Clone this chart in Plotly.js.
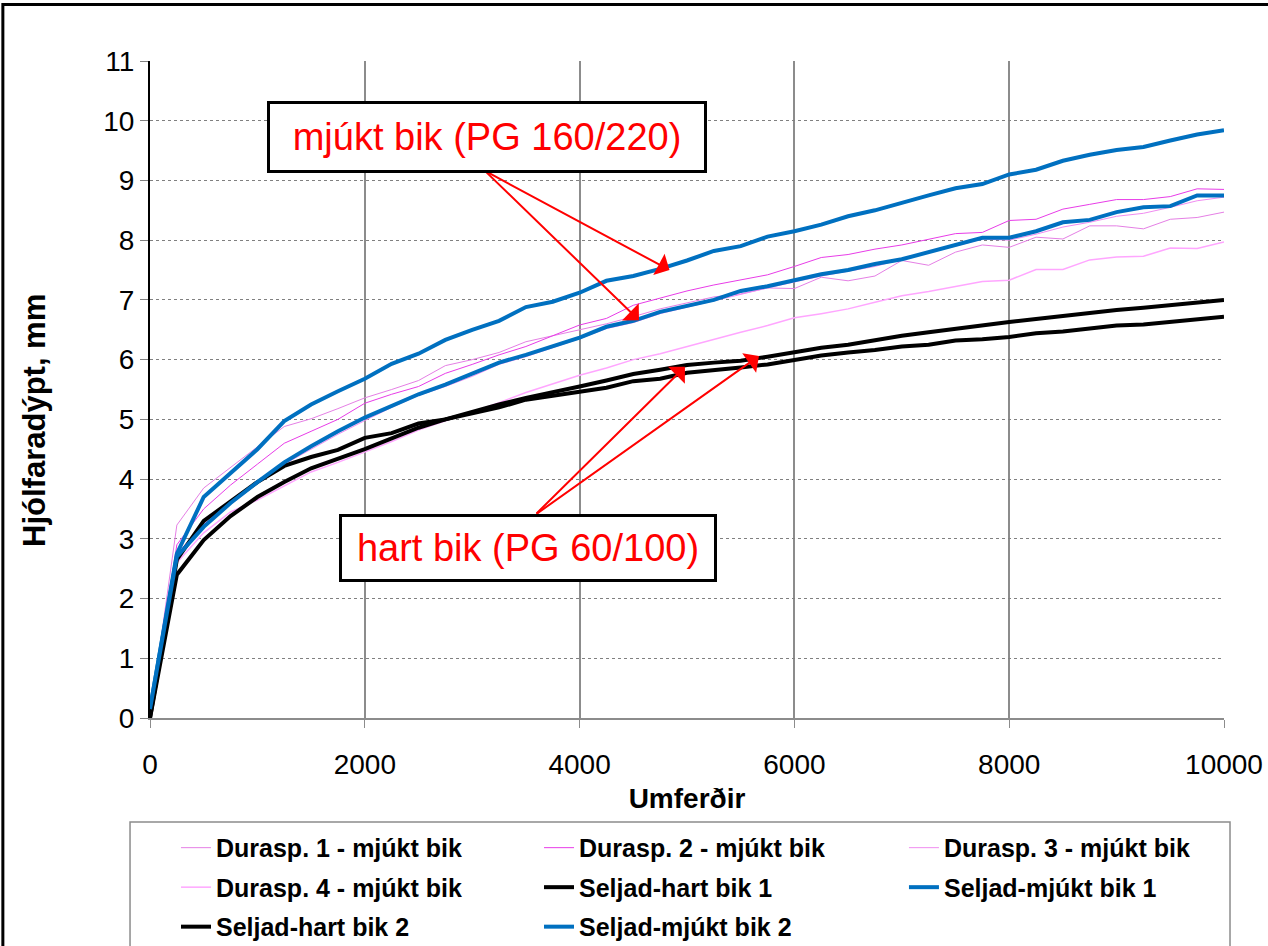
<!DOCTYPE html>
<html>
<head>
<meta charset="utf-8">
<script src="https://cdn.plot.ly/plotly-3.0.1.min.js"></script>
<style>
html,body{margin:0;padding:0;background:#fff;}
#chart{width:1268px;height:946px;}
</style>
</head>
<body>
<div id="chart"></div>
<script>
// Traffic passes (x axis)
const passes = [0,250,500,750,1000,1250,1500,1750,2000,2250,2500,2750,3000,3250,3500,3750,4000,4250,4500,4750,5000,
  5250,5500,5750,6000,6250,6500,6750,7000,7250,7500,7750,8000,8250,8500,8750,9000,9250,9500,9750,10000];

const durasp1 = [0,3.23,3.85,4.2,4.54,4.88,5.01,5.18,5.36,5.5,5.65,5.9,6.0,6.12,6.3,6.4,6.5,6.6,6.72,6.85,6.95,
  7.05,7.1,7.2,7.19,7.38,7.32,7.4,7.66,7.58,7.8,7.92,7.88,8.05,8.02,8.24,8.24,8.19,8.35,8.38,8.47];
const durasp2 = [0,2.9,3.5,3.9,4.25,4.6,4.8,5.0,5.27,5.42,5.55,5.77,5.92,6.08,6.22,6.4,6.58,6.69,6.91,7.03,7.15,
  7.25,7.34,7.42,7.56,7.71,7.76,7.85,7.92,8.02,8.11,8.13,8.33,8.35,8.52,8.6,8.68,8.68,8.73,8.86,8.85];
const durasp3 = [0,2.75,3.25,3.62,3.95,4.25,4.5,4.75,4.98,5.2,5.4,5.55,5.72,5.92,6.05,6.2,6.35,6.52,6.62,6.77,6.88,
  6.98,7.1,7.2,7.3,7.4,7.48,7.56,7.68,7.8,7.9,8.02,8.0,8.1,8.22,8.3,8.4,8.45,8.55,8.66,8.72];
const durasp4 = [0,2.6,3.1,3.45,3.65,3.88,4.12,4.28,4.45,4.63,4.82,4.97,5.12,5.28,5.45,5.6,5.74,5.86,6.0,6.1,6.22,
  6.35,6.46,6.57,6.7,6.77,6.85,6.96,7.07,7.14,7.22,7.31,7.33,7.51,7.51,7.67,7.72,7.73,7.87,7.86,7.97];
const seljadHart1 = [0,2.4,2.98,3.38,3.7,3.95,4.18,4.34,4.5,4.68,4.86,5.0,5.13,5.25,5.36,5.45,5.55,5.65,5.76,5.83,5.91,
  5.95,5.98,6.05,6.12,6.2,6.25,6.33,6.4,6.46,6.52,6.57,6.63,6.68,6.73,6.79,6.83,6.87,6.91,6.95,7.0];
const seljadMjukt1 = [0.15,2.75,3.7,4.1,4.5,4.97,5.25,5.47,5.68,5.93,6.1,6.33,6.5,6.65,6.88,6.97,7.12,7.32,7.4,7.52,7.66,
  7.82,7.9,8.06,8.15,8.26,8.4,8.5,8.63,8.75,8.87,8.94,9.1,9.18,9.33,9.43,9.51,9.56,9.67,9.77,9.84];
const seljadHart2 = [0,2.65,3.3,3.62,3.95,4.22,4.37,4.49,4.69,4.77,4.93,5.0,5.1,5.2,5.33,5.4,5.46,5.53,5.64,5.68,5.78,
  5.82,5.87,5.92,5.99,6.07,6.12,6.16,6.22,6.25,6.32,6.34,6.38,6.44,6.47,6.52,6.57,6.59,6.63,6.68,6.72];
const seljadMjukt2 = [0.15,2.7,3.2,3.6,3.95,4.28,4.55,4.8,5.03,5.22,5.42,5.58,5.76,5.95,6.08,6.22,6.37,6.55,6.65,6.8,6.9,
  7.0,7.15,7.23,7.33,7.43,7.5,7.6,7.68,7.8,7.93,8.04,8.04,8.15,8.3,8.34,8.47,8.55,8.57,8.75,8.75];

const seriesNames = ["Durasp. 1 - mjúkt bik","Durasp. 2 - mjúkt bik","Durasp. 3 - mjúkt bik","Durasp. 4 - mjúkt bik",
  "Seljad-hart bik 1","Seljad-mjúkt bik 1","Seljad-hart bik 2","Seljad-mjúkt bik 2"];

const xTitle = "Umferðir";
const yTitle = "Hjólfaradýpt, mm";
const labelSoft = "mjúkt bik (PG 160/220)";
const labelHard = "hart bik (PG 60/100)";

const FONT = "Liberation Sans, Arial, sans-serif";

// legend laid out in three columns (legend, legend2, legend3), read row by row
function tr(i, y, color, width) {
  const col = i % 3;
  return {x: passes, y: y, name: seriesNames[i], type: "scatter", mode: "lines",
          line: {color: color, width: width},
          legend: col === 0 ? "legend" : (col === 1 ? "legend2" : "legend3"),
          legendgroup: "g" + i};
}

const data = [
  tr(0, durasp1, "#e57fe5", 1),
  tr(1, durasp2, "#e83ce8", 1),
  tr(2, durasp3, "#f08cf0", 1),
  tr(3, durasp4, "#ffa6ff", 1.5),
  tr(4, seljadHart1, "#000000", 4),
  tr(5, seljadMjukt1, "#0070c0", 4),
  tr(6, seljadHart2, "#000000", 4),
  tr(7, seljadMjukt2, "#0070c0", 4)
];

function legendAt(xc) {
  return {
    orientation: "v", xref: "container", yref: "container",
    x: xc, xanchor: "left", y: 0.128, yanchor: "top",
    font: {family: FONT, size: 25, color: "#000", weight: "bold"},
    bgcolor: "rgba(0,0,0,0)", borderwidth: 0, traceorder: "grouped", tracegroupgap: 4
  };
}

const arrowCommon = {text: "", showarrow: true, arrowcolor: "#ff0000", arrowwidth: 2,
  arrowhead: 1, arrowsize: 2, xref: "x", yref: "y", axref: "x", ayref: "y"};

const layout = {
  width: 1268, height: 946,
  paper_bgcolor: "#ffffff", plot_bgcolor: "#ffffff",
  margin: {l: 150, r: 44, t: 61, b: 228, pad: 0, autoexpand: false},
  font: {family: FONT, color: "#000"},
  showlegend: true,
  legend: legendAt(0.1388),
  legend2: legendAt(0.4251),
  legend3: legendAt(0.7129),
  xaxis: {
    range: [0, 10000], dtick: 2000, tick0: 0, tickformat: "d",
    showgrid: true, gridcolor: "#8c8c8c", gridwidth: 2,
    showline: true, linecolor: "#8c8c8c", linewidth: 2,
    ticks: "outside", ticklen: 8, tickcolor: "#8c8c8c", tickwidth: 1,
    tickfont: {family: FONT, size: 28, color: "#000"}, ticklabelstandoff: 12,
    zeroline: false, automargin: false,
    title: {text: xTitle, font: {family: FONT, size: 28, color: "#000", weight: "bold"}, standoff: 10}
  },
  yaxis: {
    range: [0, 11], dtick: 1, tick0: 0,
    showgrid: true, gridcolor: "#808080", gridwidth: 1, griddash: "dot",
    showline: true, linecolor: "#000", linewidth: 2,
    ticks: "outside", ticklen: 8, tickcolor: "#808080", tickwidth: 1,
    tickfont: {family: FONT, size: 28, color: "#000"},
    zeroline: false, automargin: false
  },
  shapes: [
    // outer frame
    {type: "rect", xref: "paper", yref: "paper", x0: -0.137, x1: 1.2, y0: -0.5, y1: 1.086,
     line: {color: "#000", width: 3}, fillcolor: "rgba(0,0,0,0)", layer: "above"},
    // legend box
    {type: "rect", xref: "paper", yref: "paper", x0: -0.0186, x1: 1.0056, y0: -0.40, y1: -0.1583,
     line: {color: "#8c8c8c", width: 1.5}, fillcolor: "rgba(0,0,0,0)", layer: "above"}
  ],
  annotations: [
    // y-axis title
    {x: -0.1071, y: 0.4536, xref: "paper", yref: "paper", xanchor: "center", yanchor: "middle",
     text: yTitle, textangle: -90, showarrow: false,
     font: {family: FONT, size: 31, color: "#000", weight: "bold"}},
    Object.assign({}, arrowCommon, {x: 4837, y: 7.50, ax: 3119, ay: 9.16}),
    Object.assign({}, arrowCommon, {x: 4553, y: 6.66, ax: 3119, ay: 9.16}),
    Object.assign({}, arrowCommon, {x: 4981, y: 5.88, ax: 3585, ay: 3.40}),
    Object.assign({}, arrowCommon, {x: 5670, y: 6.06, ax: 3585, ay: 3.40}),
    {x: 3138, y: 9.73, xref: "x", yref: "y", text: labelSoft, showarrow: false,
     font: {family: FONT, size: 38, color: "#ff0000"}, bgcolor: "#ffffff",
     bordercolor: "#000", borderwidth: 3, borderpad: 2, width: 430, height: 62},
    {x: 3520, y: 2.85, xref: "x", yref: "y", text: labelHard, showarrow: false,
     font: {family: FONT, size: 38, color: "#ff0000"}, bgcolor: "#ffffff",
     bordercolor: "#000", borderwidth: 3, borderpad: 2, width: 368, height: 58}
  ]
};

Plotly.newPlot("chart", data, layout, {displayModeBar: false, staticPlot: true});
</script>
</body>
</html>
